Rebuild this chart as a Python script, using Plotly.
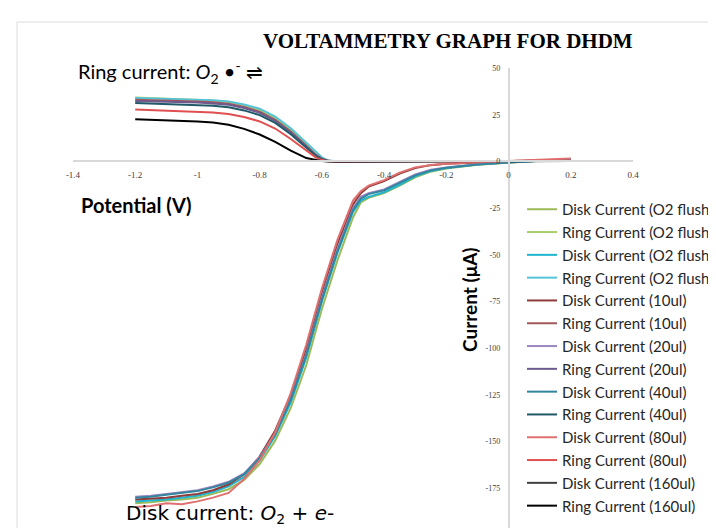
import plotly.graph_objects as go

# ---------------- data ----------------
X_TICKS = [-1.4, -1.2, -1.0, -0.8, -0.6, -0.4, -0.2, 0.0, 0.2, 0.4]
X_TICK_TEXT = ["-1.4", "-1.2", "-1", "-0.8", "-0.6", "-0.4", "-0.2", "0", "0.2", "0.4"]
Y_TICKS = [50, 25, 0, -25, -50, -75, -100, -125, -150, -175, -200]
Y_TICK_TEXT = ["50", "25", "0", "-25", "-50", "-75", "-100", "-125", "-150", "-175", "-200"]

X_DISK = [-1.2, -1.15, -1.1, -1.05, -1.0, -0.95, -0.9, -0.85, -0.8, -0.75, -0.7, -0.65,
          -0.6, -0.55, -0.5, -0.475, -0.45, -0.4, -0.35, -0.3, -0.25, -0.2, -0.1, 0.0, 0.1, 0.2]
DISK_O2_A = [-183, -182.5, -181.5, -181, -180, -178, -175.5, -170.5, -162, -149.5, -132, -109,
             -79, -53, -30, -22, -19.5, -17, -13, -8.5, -5.5, -3.8, -1.8, -0.6, 0.4, 1.0]
DISK_O2_B = [-182, -181.5, -181, -180, -179, -177, -174, -169, -160, -147, -129, -105,
             -75, -49, -27, -21, -19, -16.5, -12.5, -8, -5.2, -3.6, -1.7, -0.5, 0.4, 1.0]
DISK_10 = [-181, -180.5, -180, -179, -178, -176, -173, -167.5, -158, -144, -125, -100,
           -70, -44, -23, -17, -13.5, -10.5, -6.5, -3.5, -2.0, -1.3, -0.6, 0.0, 0.6, 1.2]
DISK_20 = [-179.5, -179, -178, -177, -176, -174, -171.5, -167, -158.5, -145.5, -127, -103,
           -73, -47, -25, -19, -17, -15, -11, -7, -4.5, -3.2, -1.5, -0.4, 0.4, 1.0]
DISK_40 = [-180, -179.5, -178.5, -177.5, -176.5, -174.5, -172, -167.5, -159, -146, -127.5, -103.5,
           -74, -48, -26, -20, -17.5, -15.5, -11.5, -7.5, -4.8, -3.4, -1.6, -0.5, 0.4, 1.0]
DISK_80 = [-185, -184.5, -183, -183.5, -182, -180, -177.5, -170, -160, -145, -124, -98,
           -68, -42, -21, -16, -13, -10, -6, -3.2, -1.9, -1.2, -0.5, 0.2, 0.9, 1.6]

X_RING = [-1.2, -1.1, -1.0, -0.95, -0.9, -0.85, -0.8, -0.75, -0.7, -0.65, -0.62, -0.6,
          -0.58, -0.55, -0.5, -0.3, 0.0, 0.2]
RING_O2_A = [34.2, 33.7, 33.1, 32.6, 31.8, 30.0, 27.6, 23.3, 16.8, 9.0, 4.0, 1.6, 0.3, 0, 0, 0, 0.1, 0.3]
RING_O2_B = [34.0, 33.6, 33.1, 32.7, 32.1, 30.5, 28.2, 24.0, 17.8, 10.0, 4.8, 2.2, 0.5, 0.05, 0, 0, 0.1, 0.3]
RING_10 = [33.0, 32.6, 32.1, 31.6, 30.9, 29.2, 26.6, 22.3, 16.0, 8.4, 3.6, 1.4, 0.3, 0, 0, 0, 0.1, 0.3]
RING_20 = [32.4, 32.0, 31.5, 31.0, 30.3, 28.6, 26.0, 21.7, 15.5, 8.0, 3.4, 1.3, 0.3, 0, 0, 0, 0.1, 0.3]
RING_40 = [31.2, 30.8, 30.3, 29.8, 29.0, 27.3, 24.8, 20.6, 14.5, 7.3, 3.0, 1.1, 0.2, 0, 0, 0, 0.1, 0.3]
RING_80 = [27.8, 27.3, 26.7, 26.2, 25.4, 23.8, 21.4, 17.6, 12.0, 5.6, 2.2, 0.7, 0.1, 0, 0, 0, 0.1, 0.3]
RING_160 = [22.5, 22.0, 21.4, 20.8, 19.6, 17.4, 14.4, 10.4, 5.8, 1.8, 0.6, 0.15, 0, 0, 0, 0, 0.1, 0.2]

SERIES = [
    ("Disk Current (O2 flush)", X_DISK, DISK_O2_A, "#9bbb59"),
    ("Ring Current (O2 flush)", X_RING, RING_O2_A, "#a9cf6a"),
    ("Disk Current (O2 flush)", X_DISK, DISK_O2_B, "#1fb5cf"),
    ("Ring Current (O2 flush)", X_RING, RING_O2_B, "#55c4d8"),
    ("Disk Current (10ul)", X_DISK, DISK_10, "#8e3b3b"),
    ("Ring Current (10ul)", X_RING, RING_10, "#a0585a"),
    ("Disk Current (20ul)", X_DISK, DISK_20, "#9c86c0"),
    ("Ring Current (20ul)", X_RING, RING_20, "#6c5a8e"),
    ("Disk Current (40ul)", X_DISK, DISK_40, "#31859c"),
    ("Ring Current (40ul)", X_RING, RING_40, "#215968"),
    ("Disk Current (80ul)", X_DISK, DISK_80, "#e07070"),
    ("Ring Current (80ul)", X_RING, RING_80, "#e05050"),
    ("Disk Current (160ul)", [None], [None], "#404040"),
    ("Ring Current (160ul)", X_RING, RING_160, "#000000"),
]

# ---------------- figure ----------------
W, H = 716, 528
ML, MR, MT, MB = 65, 91, 60, 1
PW, PH = W - ML - MR, H - MT - MB


def px(x):
    return (x - ML) / PW


def py(y):
    return (H - MB - y) / PH


fig = go.Figure()
for i, (name, xs, ys, col) in enumerate(SERIES):
    fig.add_trace(go.Scatter(x=xs, y=ys, mode="lines", name=name,
                             line=dict(color=col, width=2), legendgroup="g%d" % i))

SANS = "Lato, 'Noto Sans', sans-serif"
fig.update_layout(
    width=W, height=H,
    margin=dict(l=ML, r=MR, t=MT, b=MB, autoexpand=False),
    paper_bgcolor="white", plot_bgcolor="white",
    showlegend=True,
    legend=dict(x=px(514), y=py(185), xanchor="left", yanchor="top",
                font=dict(family=SANS, size=15, color="#262626"),
                bgcolor="rgba(0,0,0,0)", tracegroupgap=0.3, itemwidth=30),
    xaxis=dict(range=[-1.4, 0.4], tickvals=X_TICKS, ticktext=X_TICK_TEXT,
               anchor="free", position=0.8, showgrid=False, zeroline=False,
               showline=True, linecolor="#d9d9d9", linewidth=1.5, ticks="",
               ticklabelstandoff=5,
               tickfont=dict(family="Liberation Serif", size=9, color="#404040")),
    yaxis=dict(range=[-200, 50], tickvals=Y_TICKS, ticktext=Y_TICK_TEXT,
               anchor="free", position=1.4 / 1.8, showgrid=False, zeroline=False,
               showline=True, linecolor="#d9d9d9", linewidth=1.5, ticks="",
               ticklabelstandoff=6,
               tickfont=dict(family="Liberation Serif", size=8, color="#404040")),
)

# frame
fig.add_shape(type="rect", xref="paper", yref="paper", x0=px(9), x1=px(760), y0=py(600), y1=py(14),
              line=dict(color="#dcdcdc", width=1), fillcolor="rgba(0,0,0,0)", layer="below")

ann = [
    dict(text="<b>VOLTAMMETRY GRAPH FOR DHDM</b>", x=px(440), y=py(33),
         font=dict(family="Liberation Serif", size=21, color="#000000")),
    dict(text="Ring current: <i>O</i><sub>2</sub> •<sup>-</sup> ⇌", x=px(162), y=py(64),
         font=dict(family=SANS, size=20, color="#000000")),
    dict(text="<b>Potential (V)</b>", x=px(128), y=py(197),
         font=dict(family=SANS, size=20, color="#000000")),
    dict(text="Disk current: <i>O</i><sub>2</sub> + <i>e</i>-", x=px(222), y=py(506),
         font=dict(family="DejaVu Sans", size=20, color="#000000")),
    dict(text="<b>Current (μA)</b>", x=px(461), y=py(292), textangle=-90,
         font=dict(family=SANS, size=19, color="#000000")),
]
for a in ann:
    fig.add_annotation(xref="paper", yref="paper", showarrow=False,
                       xanchor="center", yanchor="middle", **a)

fig.write_html("out.html")
